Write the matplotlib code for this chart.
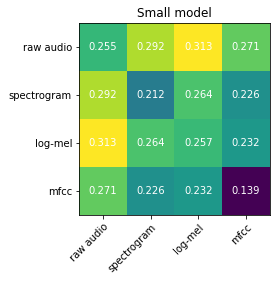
import matplotlib
matplotlib.use("Agg")
import matplotlib.pyplot as plt
import numpy as np

labels = ["raw audio", "spectrogram", "log-mel", "mfcc"]
values = np.array([
    [0.255, 0.292, 0.313, 0.271],
    [0.292, 0.212, 0.264, 0.226],
    [0.313, 0.264, 0.257, 0.232],
    [0.271, 0.226, 0.232, 0.139],
])
title = "Small model"

dpi = 72
fig = plt.figure(figsize=(280 / dpi, 281 / dpi), dpi=dpi)
ax = fig.add_axes([79 / 280, 1 - 215 / 281, 191 / 280, 192 / 281])
ax.imshow(values, cmap="viridis", aspect="auto")
ax.set_xticks(range(len(labels)))
ax.set_yticks(range(len(labels)))
ax.set_xticklabels(labels, rotation=45, ha="right", rotation_mode="anchor")
ax.set_yticklabels(labels)
for i in range(len(labels)):
    for j in range(len(labels)):
        ax.text(j, i, f"{values[i, j]:.3f}", ha="center", va="center", color="w")
ax.set_title(title)
fig.savefig("out.png", dpi=dpi)
